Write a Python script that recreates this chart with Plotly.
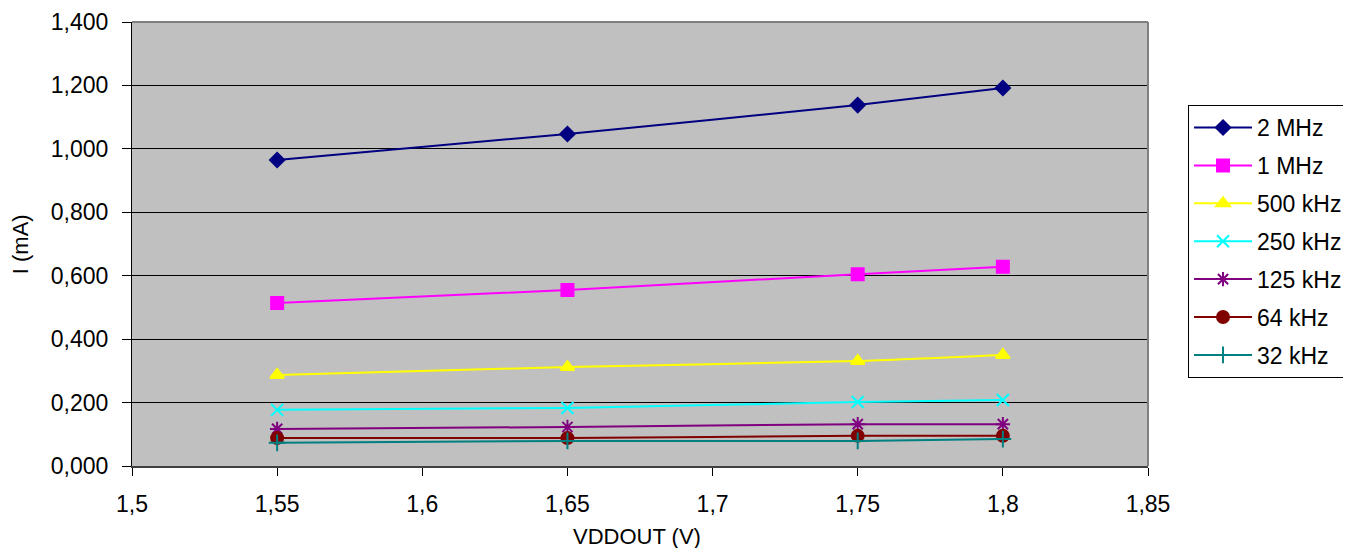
import plotly.graph_objects as go

vddout = [1.55, 1.65, 1.75, 1.8]
series_names = ["2 MHz", "1 MHz", "500 kHz", "250 kHz", "125 kHz", "64 kHz", "32 kHz"]
i_2mhz = [0.965, 1.047, 1.138, 1.192]
i_1mhz = [0.514, 0.555, 0.605, 0.628]
i_500khz = [0.287, 0.312, 0.331, 0.350]
i_250khz = [0.177, 0.183, 0.202, 0.208]
i_125khz = [0.117, 0.123, 0.132, 0.132]
i_64khz = [0.088, 0.088, 0.095, 0.095]
i_32khz = [0.073, 0.079, 0.079, 0.085]
x_ticks = [1.5, 1.55, 1.6, 1.65, 1.7, 1.75, 1.8, 1.85]
y_ticks = [0, 0.2, 0.4, 0.6, 0.8, 1.0, 1.2, 1.4]

values = [i_2mhz, i_1mhz, i_500khz, i_250khz, i_125khz, i_64khz, i_32khz]
colors = ["#000080", "#FF00FF", "#FFFF00", "#00FFFF", "#800080", "#800000", "#008080"]
symbols = ["diamond", "square", "triangle-up", "x-thin-open", "asterisk-open", "circle", "cross-thin-open"]
sizes = [11, 12, 12, 12, 12, 12, 12]

fig = go.Figure()
for name, vals, c, s, sz in zip(series_names, values, colors, symbols, sizes):
    fig.add_trace(go.Scatter(
        x=vddout, y=vals, name=name, legendgroup=name, mode="lines+markers",
        line=dict(color=c, width=2, shape="spline", smoothing=0.6),
        marker=dict(symbol=s, size=sz, color=c, line=dict(color=c, width=2)),
    ))

font = "Liberation Sans, Arial, sans-serif"
fig.update_layout(
    width=1335, height=540,
    margin=dict(l=124, r=195, t=14, b=82, autoexpand=False),
    paper_bgcolor="white", plot_bgcolor="#C0C0C0",
    separators=",.",
    font=dict(family=font, size=23, color="black"),
    showlegend=True,
    legend=dict(
        x=1.0394, y=0.813, xanchor="left", yanchor="top",
        bordercolor="black", borderwidth=1, bgcolor="white",
        font=dict(size=23), itemwidth=58, tracegroupgap=5,
    ),
    xaxis=dict(
        range=[1.5, 1.85], tickvals=x_ticks, ticks="outside", ticklen=8,
        tickcolor="black", showgrid=False, showline=True, linecolor="#404040",
        linewidth=2, zeroline=False, automargin=False, ticklabelstandoff=8,
    ),
    yaxis=dict(
        range=[0, 1.4], tickvals=y_ticks, tickformat=".3f", ticks="outside",
        ticklen=9, tickcolor="black", showgrid=True, gridcolor="black",
        gridwidth=1, showline=True, linecolor="black", linewidth=1,
        zeroline=False, automargin=False, ticklabelstandoff=9,
    ),
    shapes=[
        dict(type="line", xref="paper", yref="paper", x0=0, x1=1, y0=1, y1=1,
             line=dict(color="#808080", width=2), layer="above"),
        dict(type="line", xref="paper", yref="paper", x0=1, x1=1, y0=0, y1=1,
             line=dict(color="#808080", width=2), layer="above"),
    ],
    annotations=[
        dict(text="VDDOUT (V)", xref="paper", yref="paper", x=0.497, y=-0.1577,
             xanchor="center", yanchor="middle", showarrow=False, font=dict(size=22)),
        dict(text="I (mA)", xref="paper", yref="paper", x=-0.110, y=0.5,
             xanchor="center", yanchor="middle", textangle=-90, showarrow=False,
             font=dict(size=22)),
    ],
)
fig.write_html("out.html")
